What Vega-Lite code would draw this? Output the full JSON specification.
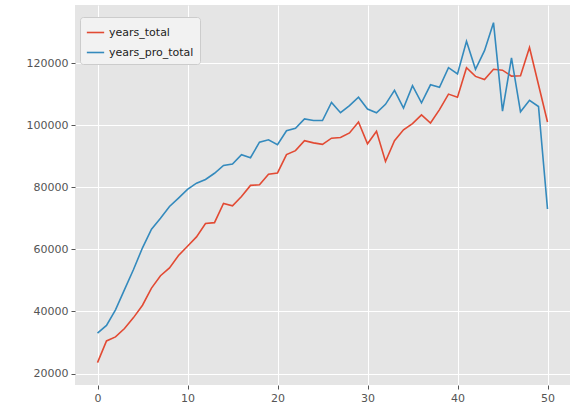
{
  "$schema": "https://vega.github.io/schema/vega-lite/v6.json",
  "width": 495,
  "height": 380,
  "padding": {"left": 75, "top": 5, "right": 8, "bottom": 28},
  "autosize": {"type": "none"},
  "background": "white",
  "config": {
    "view": {"fill": "#E5E5E5", "stroke": null},
    "axis": {"gridColor": "white", "gridWidth": 1, "domain": false, "tickColor": "#555555", "tickSize": 4, "labelColor": "#555555", "labelFontSize": 11, "labelFont": "DejaVu Sans", "title": null, "labelPadding": 3}
  },
  "data": {"values": [
    {"x":0,"years_total":23500,"years_pro_total":33000},
    {"x":1,"years_total":30500,"years_pro_total":35500},
    {"x":2,"years_total":31800,"years_pro_total":40500},
    {"x":3,"years_total":34500,"years_pro_total":47000},
    {"x":4,"years_total":38000,"years_pro_total":53500},
    {"x":5,"years_total":42000,"years_pro_total":60500},
    {"x":6,"years_total":47500,"years_pro_total":66500},
    {"x":7,"years_total":51500,"years_pro_total":70000},
    {"x":8,"years_total":54000,"years_pro_total":73800},
    {"x":9,"years_total":58000,"years_pro_total":76500},
    {"x":10,"years_total":61000,"years_pro_total":79300},
    {"x":11,"years_total":64000,"years_pro_total":81300},
    {"x":12,"years_total":68300,"years_pro_total":82500},
    {"x":13,"years_total":68600,"years_pro_total":84500},
    {"x":14,"years_total":74800,"years_pro_total":87000},
    {"x":15,"years_total":74000,"years_pro_total":87500},
    {"x":16,"years_total":77000,"years_pro_total":90500},
    {"x":17,"years_total":80600,"years_pro_total":89500},
    {"x":18,"years_total":80800,"years_pro_total":94500},
    {"x":19,"years_total":84200,"years_pro_total":95300},
    {"x":20,"years_total":84600,"years_pro_total":93700},
    {"x":21,"years_total":90500,"years_pro_total":98200},
    {"x":22,"years_total":91800,"years_pro_total":99000},
    {"x":23,"years_total":95000,"years_pro_total":102000},
    {"x":24,"years_total":94300,"years_pro_total":101500},
    {"x":25,"years_total":93800,"years_pro_total":101500},
    {"x":26,"years_total":95800,"years_pro_total":107300},
    {"x":27,"years_total":96000,"years_pro_total":104000},
    {"x":28,"years_total":97500,"years_pro_total":106300},
    {"x":29,"years_total":101000,"years_pro_total":109000},
    {"x":30,"years_total":94000,"years_pro_total":105200},
    {"x":31,"years_total":98000,"years_pro_total":104000},
    {"x":32,"years_total":88300,"years_pro_total":106700},
    {"x":33,"years_total":95000,"years_pro_total":111200},
    {"x":34,"years_total":98500,"years_pro_total":105500},
    {"x":35,"years_total":100500,"years_pro_total":112700},
    {"x":36,"years_total":103300,"years_pro_total":107200},
    {"x":37,"years_total":100700,"years_pro_total":113000},
    {"x":38,"years_total":105000,"years_pro_total":112200},
    {"x":39,"years_total":110000,"years_pro_total":118500},
    {"x":40,"years_total":109000,"years_pro_total":116500},
    {"x":41,"years_total":118500,"years_pro_total":127000},
    {"x":42,"years_total":115700,"years_pro_total":118000},
    {"x":43,"years_total":114700,"years_pro_total":124000},
    {"x":44,"years_total":118000,"years_pro_total":133000},
    {"x":45,"years_total":117700,"years_pro_total":104500},
    {"x":46,"years_total":115800,"years_pro_total":121700},
    {"x":47,"years_total":115900,"years_pro_total":104300},
    {"x":48,"years_total":125000,"years_pro_total":108000},
    {"x":49,"years_total":113000,"years_pro_total":106000},
    {"x":50,"years_total":101000,"years_pro_total":73000}
  ]},
  "transform": [{"fold": ["years_total", "years_pro_total"], "as": ["series", "value"]}],
  "mark": {"type": "line", "strokeWidth": 1.6},
  "encoding": {
    "x": {"field": "x", "type": "quantitative", "scale": {"domain": [-2.5, 52.5], "nice": false}, "axis": {"values": [0, 10, 20, 30, 40, 50]}},
    "y": {"field": "value", "type": "quantitative", "scale": {"domain": [16300, 138700], "nice": false, "zero": false}, "axis": {"values": [20000, 40000, 60000, 80000, 100000, 120000], "format": "d"}},
    "color": {
      "field": "series", "type": "nominal",
      "scale": {"domain": ["years_total", "years_pro_total"], "range": ["#E24A33", "#348ABD"]},
      "legend": {"title": null, "orient": "none", "legendX": 5, "legendY": 12, "symbolType": "stroke", "symbolSize": 300, "symbolStrokeWidth": 1.6, "labelFontSize": 11, "labelFont": "DejaVu Sans", "labelColor": "#222222", "fillColor": "#F2F2F2", "strokeColor": "#CCCCCC", "padding": 6, "cornerRadius": 3, "rowPadding": 5}
    }
  }
}
